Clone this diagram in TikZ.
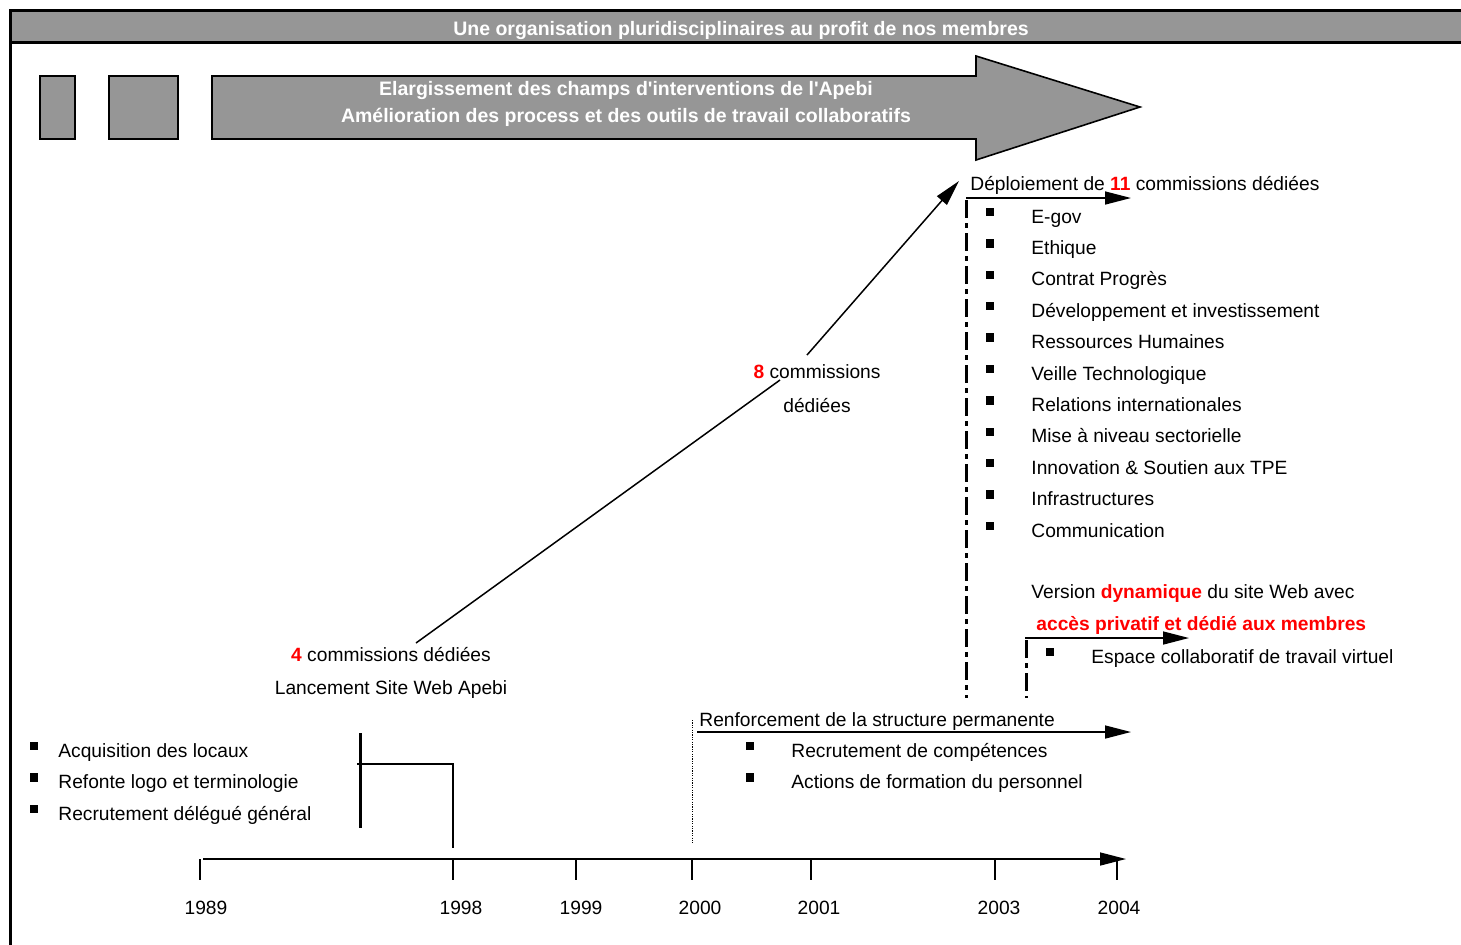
\documentclass[tikz,border=0pt]{standalone}
\usepackage{fontspec}
\setmainfont{Liberation Sans}
\usetikzlibrary{arrows.meta,positioning}
\definecolor{boxgrey}{HTML}{969696}
\newcommand{\hl}[1]{\textcolor{red}{\textbf{#1}}}

\begin{document}
\begin{tikzpicture}[x=0.5pt,y=-0.5pt,
      every node/.append style={font=\fontsize{9.6}{11}\selectfont,inner sep=0pt},
      >={Triangle[length=13pt,width=6.5pt]}]
    \tikzstyle{grey box} = [draw=black,line width=0.8pt,fill=boxgrey]
    \tikzstyle{white title} = [font=\fontsize{9.75}{11}\selectfont\bfseries,text=white,anchor=base]
    \tikzstyle{item} = [anchor=base west]
    \tikzstyle{bullet} = [fill=black,minimum width=3.8pt,minimum height=4.2pt]
    \tikzstyle{dashdot line} = [line width=1.5pt,dash pattern=on 9pt off 2.5pt on 2.5pt off 2.5pt]
    \tikzstyle{flow} = [->,line width=0.75pt]
    \useasboundingbox (0,0) rectangle (1461,944);
    \clip (0,0) rectangle (1461,944);
    % frame and title bar
    \draw[line width=1.5pt,fill=white] (10,10) rectangle (1500,1000);
    \draw[line width=1.5pt,fill=boxgrey] (10,10) rectangle (1500,42);
    \node[white title] (title) at (741,35) {Une organisation pluridisciplinaires au profit de nos membres};
    % big arrow
    \draw[grey box] (40,76) rectangle (75,139);
    \draw[grey box] (109,76) rectangle (178,139);
    \draw[grey box] (212,76) -- (976,76) -- (976,56) -- (1140,107) -- (976,160) -- (976,139) -- (212,139) -- cycle;
    \node[white title] (scope1) at (626,95) {Elargissement des champs d\textquotesingle interventions de l\textquotesingle Apebi};
    \node[white title] (scope2) at (626,122) {Amélioration des process et des outils de travail collaboratifs};
    % time axis
    \coordinate (axisstart) at (203,859);
    \coordinate (axisend) at (1126,859);
    \draw[flow] (axisstart) -- (axisend);
    \foreach \yr/\xx/\lx in {1989/200/206,1998/453/461,1999/576/581,2000/692/700,2001/811/819,2003/995/999,2004/1117/1119} {
      \draw[line width=0.75pt] (\xx,859) -- (\xx,880);
      \node[anchor=base] (y\yr) at (\lx,914) {\yr};
    }
    % 1989-1998
    \foreach \txt [count=\i] in {Acquisition des locaux,Refonte logo et terminologie,Recrutement délégué général} {
      \node[bullet] (lb\i) at (34,{746+31.5*(\i-1)}) {};
      \node[item] (l\i) at (58,{757+31.5*(\i-1)}) {\txt};
    }
    \draw[line width=1.5pt] (360,733) -- (360,828);
    \draw[line width=0.75pt] (357,764) -- (453,764) -- (453,848);
    % commissions
    \node[anchor=base] (four) at (391,661) {\hl{4} commissions dédiées};
    \node[anchor=base] (launch) at (391,694) {Lancement Site Web Apebi};
    \node[anchor=base] (eight) at (817,378) {\hl{8} commissions};
    \node[anchor=base] (eight2) at (817,412) {dédiées};
    \coordinate (c4) at (416,643);
    \coordinate (c8a) at (780,380);
    \coordinate (c8b) at (807,355);
    \coordinate (c11) at (959,181);
    \draw[line width=0.75pt] (c4) -- (c8a);
    \draw[flow] (c8b) -- (c11);
    % 2003
    \node[item] (deploy) at (970,190) {Déploiement de \hl{11} commissions dédiées};
    \draw[flow] (966,198) -- (1131,198);
    \draw[dashdot line] (966,200) -- (966,698);
    \foreach \txt [count=\i] in {E-gov,Ethique,Contrat Progrès,Développement et investissement,Ressources Humaines,Veille Technologique,Relations internationales,Mise à niveau sectorielle,Innovation \& Soutien aux TPE,Infrastructures,Communication} {
      \node[bullet] (cb\i) at (990,{212+31.4*(\i-1)}) {};
      \node[item] (c\i) at (1031,{223+31.4*(\i-1)}) {\txt};
    }
    \node[item] (version) at (1031,598) {Version \hl{dynamique} du site Web avec};
    \node[item] (access) at (1036,630) {\hl{accès privatif et dédié aux membres}};
    \draw[flow] (1025,638) -- (1189,638);
    \draw[dashdot line] (1026,640) -- (1026,698);
    \node[bullet] (eb) at (1050,652) {};
    \node[item] (espace) at (1091,663) {Espace collaboratif de travail virtuel};
    % 2000
    \draw[line width=0.5pt,dash pattern=on 0.6pt off 0.6pt] (692,720) -- (692,843);
    \node[item] (renf) at (699,726) {Renforcement de la structure permanente};
    \draw[flow] (697,732) -- (1131,732);
    \foreach \txt [count=\i] in {Recrutement de compétences,Actions de formation du personnel} {
      \node[bullet] (rb\i) at (750,{746+31.5*(\i-1)}) {};
      \node[item] (r\i) at (791,{757+31.5*(\i-1)}) {\txt};
    }
  \end{tikzpicture}
\end{document}
